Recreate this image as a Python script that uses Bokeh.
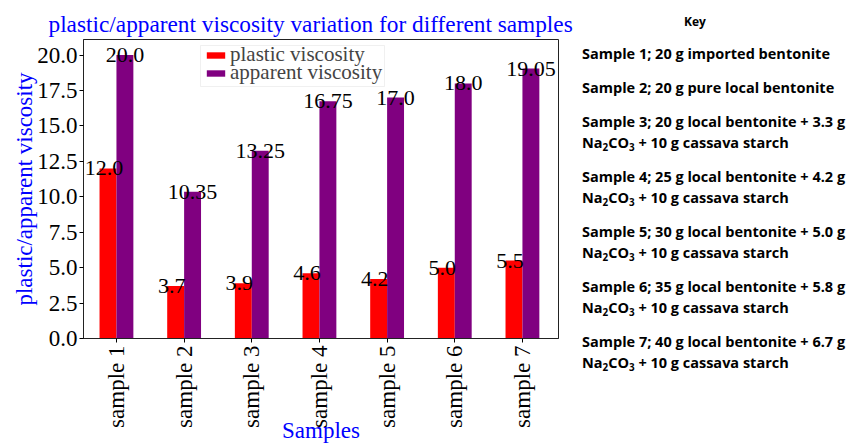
import numpy as np
from bokeh.plotting import figure
from bokeh.models import (Range1d, FixedTicker, PrintfTickFormatter, Legend,
                          LegendItem, ColumnDataSource, BoxAnnotation, Title, Div)
from bokeh.layouts import row
from bokeh.embed import file_html
from bokeh.resources import INLINE
from bokeh.core.properties import value

# ---- data ----
samples = ["sample 1", "sample 2", "sample 3", "sample 4",
           "sample 5", "sample 6", "sample 7"]
plastic = [12.0, 3.7, 3.9, 4.6, 4.2, 5.0, 5.5]
apparent = [20.0, 10.35, 13.25, 16.75, 17.0, 18.0, 19.05]
y_ticks = [0.0, 2.5, 5.0, 7.5, 10.0, 12.5, 15.0, 17.5, 20.0]

title_text = "plastic/apparent viscosity variation for different samples"
x_label = "Samples"
y_label = "plastic/apparent viscosity"
series_names = ["plastic viscosity", "apparent viscosity"]

key_title = "Key"
key_entries = [
    ["Sample 1; 20 g imported bentonite"],
    ["Sample 2; 20 g pure local bentonite"],
    ["Sample 3; 20 g local bentonite + 3.3 g", "Na\u2082CO\u2083 + 10 g cassava starch"],
    ["Sample 4; 25 g local bentonite + 4.2 g", "Na\u2082CO\u2083 + 10 g cassava starch"],
    ["Sample 5; 30 g local bentonite + 5.0 g", "Na\u2082CO\u2083 + 10 g cassava starch"],
    ["Sample 6; 35 g local bentonite + 5.8 g", "Na\u2082CO\u2083 + 10 g cassava starch"],
    ["Sample 7; 40 g local bentonite + 6.7 g", "Na\u2082CO\u2083 + 10 g cassava starch"],
]

# ---- layout constants (pixels) ----
W, H = 575, 445          # chart part; the key sits to its right
KEY_W = 850 - W
FL, FR, FT, FB = 83, 558, 39, 338
X0, X1 = -0.487, 6.533
Y0, Y1 = 0.0, 21.1


def px2x(px):
    return X0 + (px - FL) / (FR - FL) * (X1 - X0)


def px2y(py):
    return Y0 + (FB - py) / (FB - FT) * (Y1 - Y0)


SERIF = "Liberation Serif"
BAR_W = 0.25
idx = np.arange(len(samples))

src = ColumnDataSource(dict(
    x_p=idx - BAR_W / 2, x_a=idx + BAR_W / 2,
    plastic=plastic, apparent=apparent,
    lab_p=[str(v) for v in plastic], lab_a=[str(v) for v in apparent],
))

p = figure(width=W, height=H,
           x_range=Range1d(X0, X1), y_range=Range1d(Y0, Y1),
           output_backend="svg", toolbar_location=None,
           min_border_left=FL, min_border_right=W - FR,
           min_border_top=FT, min_border_bottom=H - FB)

p.title = Title(text=title_text, text_font=SERIF, text_font_size="23.3px",
                text_font_style="normal", text_color="#0000ff",
                align="left", offset=48 - FL, standoff=5)

r1 = p.vbar(x="x_p", top="plastic", width=BAR_W, source=src,
            fill_color="#ff0000", line_color=None)
r2 = p.vbar(x="x_a", top="apparent", width=BAR_W, source=src,
            fill_color="#800080", line_color=None)

p.text(x="x_p", y="plastic", text="lab_p", source=src, x_offset=-4,
       text_font=value(SERIF), text_font_size="22px", text_align="center",
       text_baseline="alphabetic", text_color="black")
p.text(x="x_a", y="apparent", text="lab_a", source=src,
       text_font=value(SERIF), text_font_size="22px", text_align="center",
       text_baseline="alphabetic", text_color="black")

p.grid.visible = False
p.outline_line_color = "#222222"
p.outline_line_width = 1

xa = p.xaxis[0]
xa.ticker = FixedTicker(ticks=list(idx))
xa.major_label_overrides = {int(i): s for i, s in zip(idx, samples)}
xa.major_label_orientation = np.pi / 2
xa.major_label_text_font = SERIF
xa.major_label_text_font_size = "23px"
xa.major_label_text_color = "black"
xa.major_label_standoff = 3
xa.major_tick_out = 4
xa.major_tick_in = 0
xa.minor_tick_out = 0
xa.minor_tick_in = 0
xa.axis_line_color = "#222222"
xa.axis_label = x_label
xa.axis_label_text_font = SERIF
xa.axis_label_text_font_size = "23px"
xa.axis_label_text_font_style = "normal"
xa.axis_label_text_color = "#0000ff"
xa.axis_label_standoff = -13

ya = p.yaxis[0]
ya.ticker = FixedTicker(ticks=y_ticks)
ya.formatter = PrintfTickFormatter(format="%.1f")
ya.major_label_text_font = SERIF
ya.major_label_text_font_size = "23px"
ya.major_label_text_color = "black"
ya.major_label_standoff = 2
ya.major_tick_out = 4
ya.major_tick_in = 0
ya.minor_tick_out = 0
ya.minor_tick_in = 0
ya.axis_line_color = "#222222"
ya.axis_label = y_label
ya.axis_label_text_font = SERIF
ya.axis_label_text_font_size = "23px"
ya.axis_label_text_font_style = "normal"
ya.axis_label_text_color = "#0000ff"
ya.axis_label_standoff = -3

# legend: a box plus one legend per row (tight row spacing)
p.add_layout(BoxAnnotation(left=px2x(200), right=px2x(384), top=px2y(45),
                           bottom=px2y(86), fill_color="white", fill_alpha=0.9,
                           line_color="#cccccc", line_width=1))
for i, (name, rend) in enumerate(zip(series_names, [r1, r2])):
    lg = Legend(items=[LegendItem(label=name, renderers=[rend])],
                location=(121, 271 - 18 * i))
    lg.label_text_font = SERIF
    lg.label_text_font_size = "21px"
    lg.label_height = 10
    lg.glyph_width = 23
    lg.glyph_height = 8
    lg.label_standoff = 3
    lg.padding = 0
    lg.spacing = 0
    lg.margin = 0
    lg.border_line_color = None
    lg.background_fill_alpha = 0
    p.add_layout(lg)

# ---- key (right-hand side) as positioned HTML text ----
def to_html(s):
    return (s.replace("\u2082", "<sub>2</sub>")
             .replace("\u2083", "<sub>3</sub>"))


parts = [
    f'<div style="position:absolute;left:{684 - W}px;top:14px;'
    f'font-size:12px;line-height:16px;">{key_title}</div>'
]
ypix = 54
for entry in key_entries:
    for line in entry:
        parts.append(
            f'<div style="position:absolute;left:{582 - W}px;top:{ypix - 10}px;'
            f'line-height:20px;white-space:nowrap;">{to_html(line)}</div>')
        ypix += 21
    ypix += 13

style_sub = ('<style>sub{font-size:68%;line-height:0;vertical-align:-0.3em;}'
             '</style>')
html = (style_sub +
        f'<div style="position:relative;width:{KEY_W}px;height:{H}px;'
        f"font-family:'Open Sans',sans-serif;font-weight:bold;"
        f'font-size:14.5px;color:#000;">' + "".join(parts) + "</div>")
key = Div(text=html, width=KEY_W, height=H, margin=0)

layout = row(p, key, spacing=0)
open("out.html", "w").write(file_html(layout, INLINE))
